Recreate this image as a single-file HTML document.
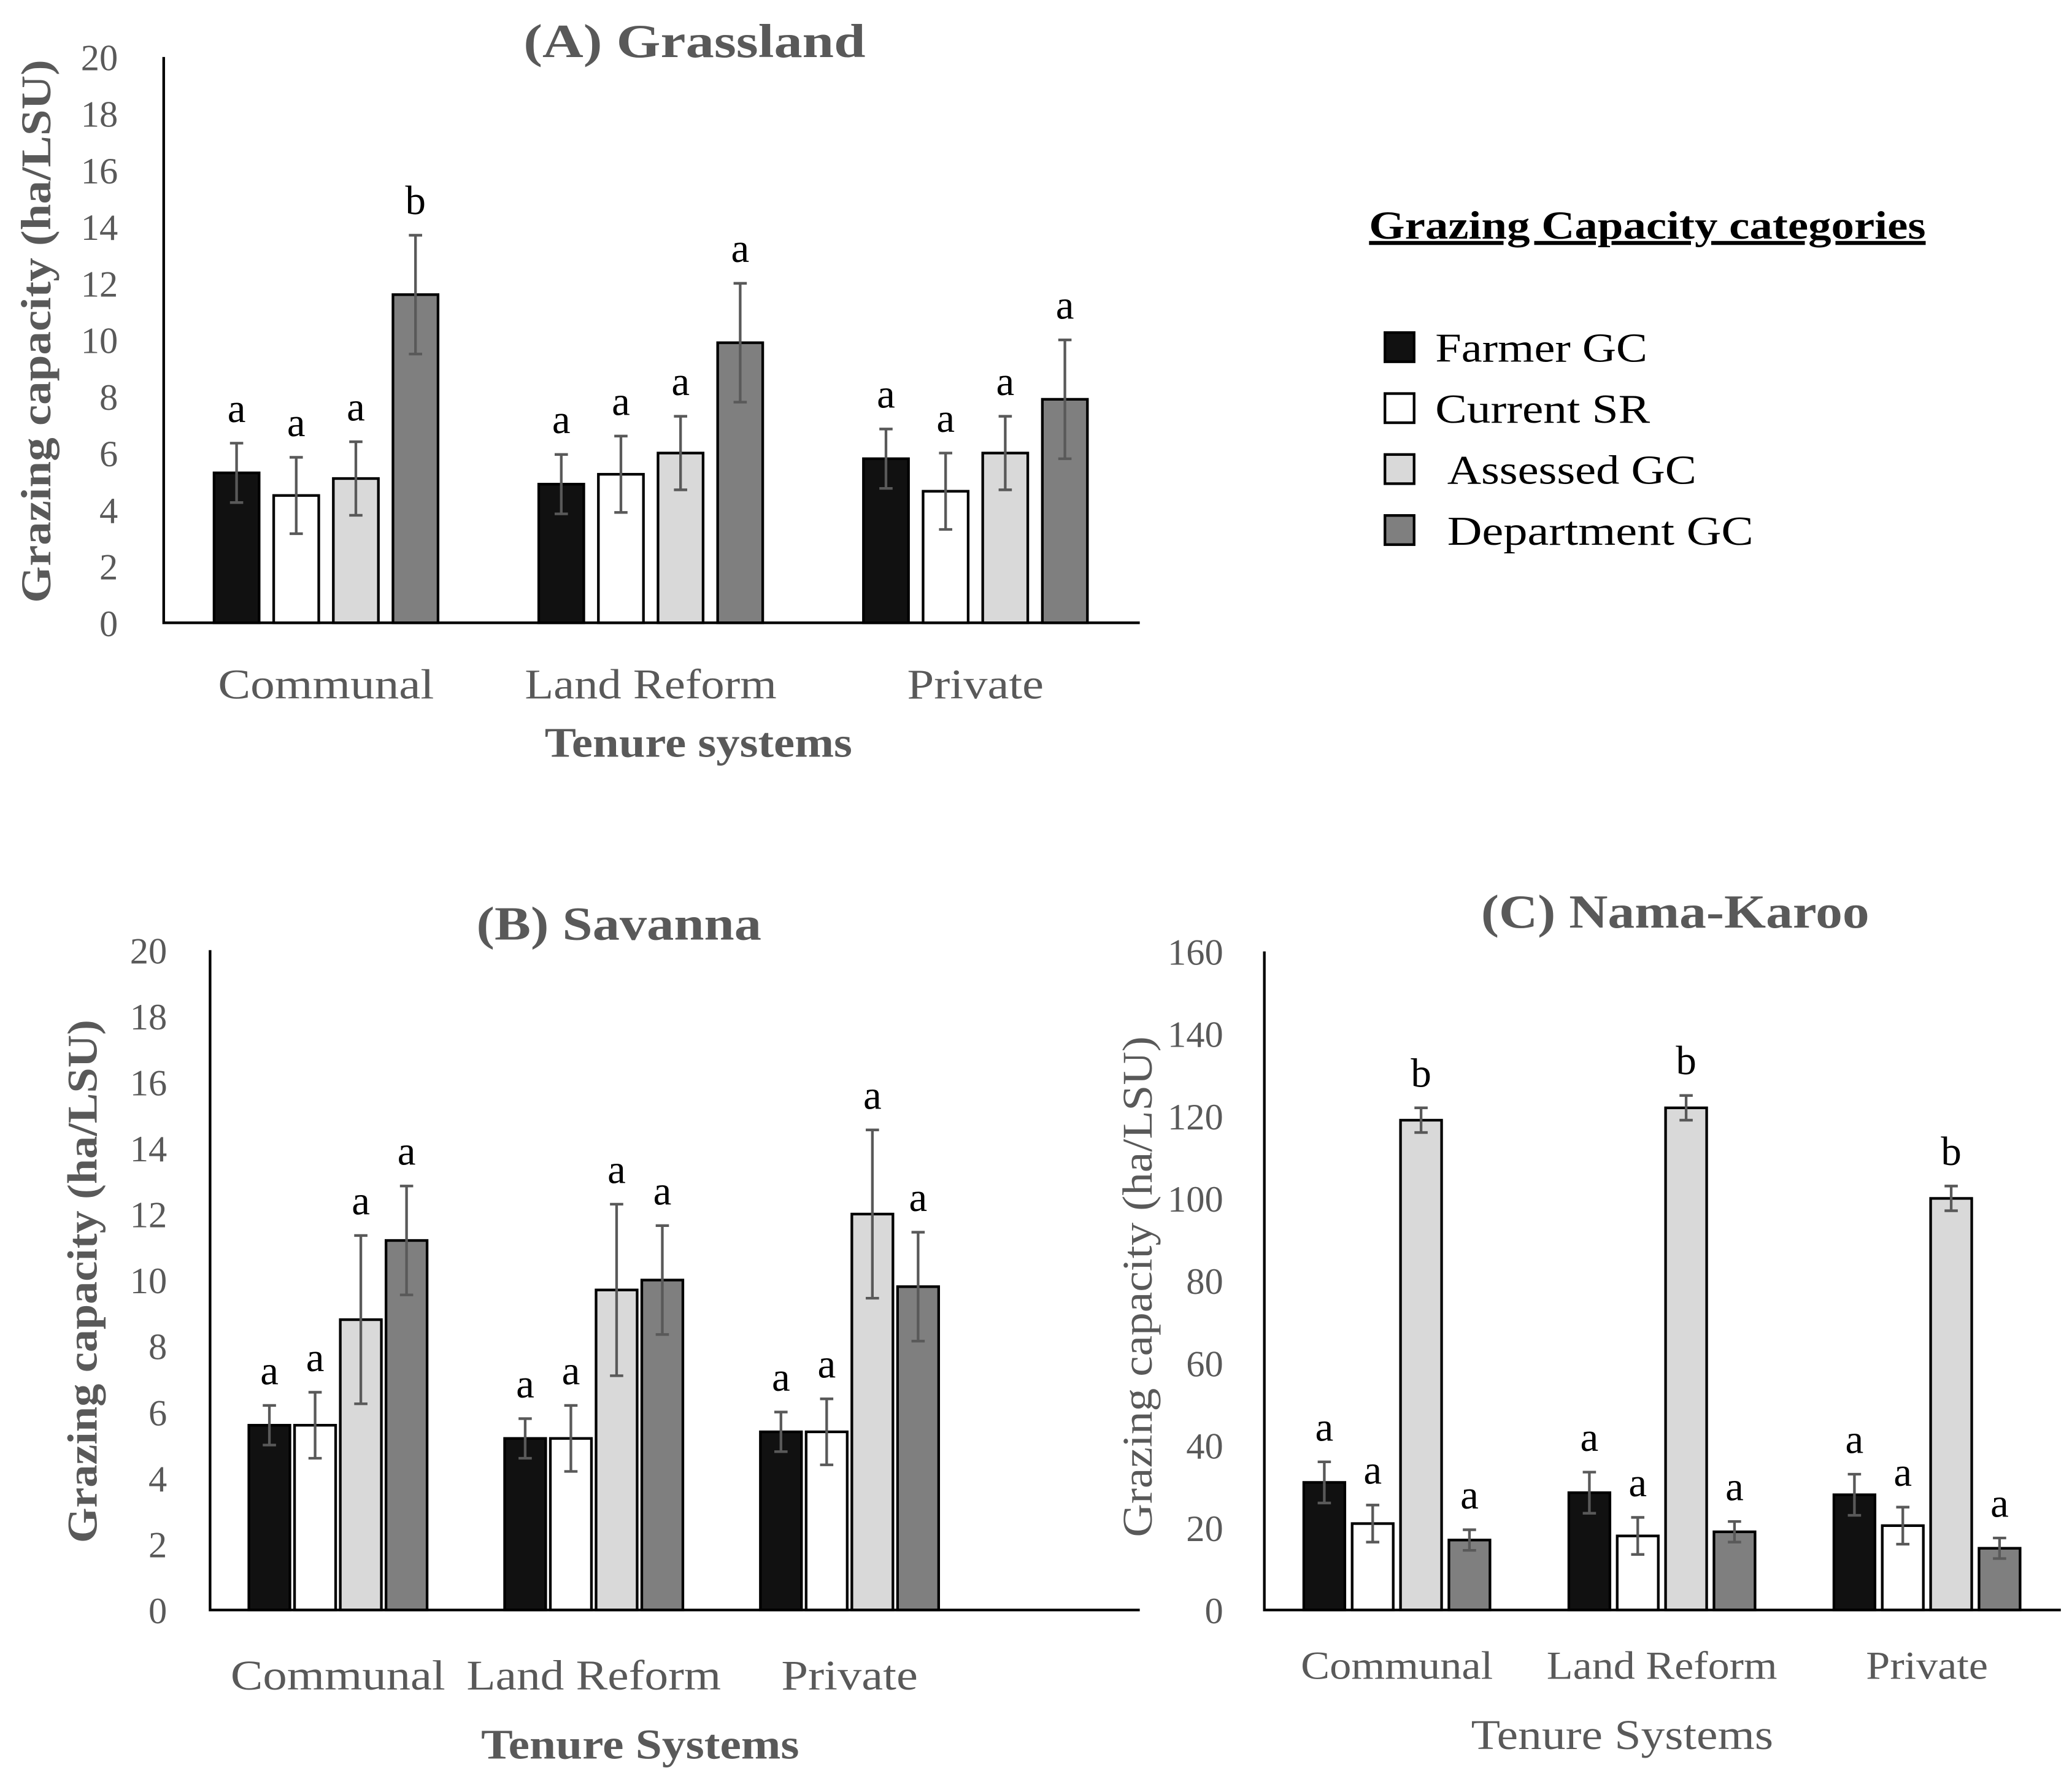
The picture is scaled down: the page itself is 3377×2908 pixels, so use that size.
<!DOCTYPE html>
<html><head><meta charset="utf-8"><style>
html,body{margin:0;padding:0;background:#fff;}
svg{display:block;}
text{font-family:"Liberation Serif",serif;}
</style></head><body>
<svg id="fig" width="3377" height="2908" viewBox="0 0 1563.4 1346.3" xmlns="http://www.w3.org/2000/svg">
<g id="legend">
<text x="1033" y="180" font-size="30" font-weight="bold" fill="#000" text-decoration="underline" textLength="420" lengthAdjust="spacingAndGlyphs">Grazing Capacity categories</text>
<rect x="1045" y="251" width="22" height="22" fill="#111" stroke="#000" stroke-width="2"/>
<text x="1083" y="273" font-size="31" fill="#000" textLength="160" lengthAdjust="spacingAndGlyphs">Farmer GC</text>
<rect x="1045" y="297" width="22" height="22" fill="#fff" stroke="#000" stroke-width="2"/>
<text x="1083" y="319" font-size="31" fill="#000" textLength="162" lengthAdjust="spacingAndGlyphs">Current SR</text>
<rect x="1045" y="343" width="22" height="22" fill="#d9d9d9" stroke="#000" stroke-width="2"/>
<text x="1092" y="365" font-size="31" fill="#000" textLength="188" lengthAdjust="spacingAndGlyphs">Assessed GC</text>
<rect x="1045" y="389" width="22" height="22" fill="#7f7f7f" stroke="#000" stroke-width="2"/>
<text x="1092" y="411" font-size="31" fill="#000" textLength="231" lengthAdjust="spacingAndGlyphs">Department GC</text>
</g>
</svg>
<script>
const categories = ["Communal", "Land Reform", "Private"];
const seriesNames = ["Farmer GC", "Current SR", "Assessed GC", "Department GC"];
const seriesColors = ["#111111", "#ffffff", "#d9d9d9", "#7f7f7f"];

const gFarmer = [5.3, 4.9, 5.8];
const gCurrent = [4.5, 5.25, 4.65];
const gAssessed = [5.1, 6.0, 6.0];
const gDept = [11.6, 9.9, 7.9];
const gFarmerErr = [1.05, 1.05, 1.05];
const gCurrentErr = [1.35, 1.35, 1.35];
const gAssessedErr = [1.3, 1.3, 1.3];
const gDeptErr = [2.1, 2.1, 2.1];
const gLetters = [["a","a","a"],["a","a","a"],["a","a","a"],["b","a","a"]];

const sFarmer = [5.6, 5.2, 5.4];
const sCurrent = [5.6, 5.2, 5.4];
const sAssessed = [8.8, 9.7, 12.0];
const sDept = [11.2, 10.0, 9.8];
const sFarmerErr = [0.6, 0.6, 0.6];
const sCurrentErr = [1.0, 1.0, 1.0];
const sAssessedErr = [2.55, 2.6, 2.55];
const sDeptErr = [1.65, 1.65, 1.65];
const sLetters = [["a","a","a"],["a","a","a"],["a","a","a"],["a","a","a"]];

const nFarmer = [31, 28.5, 28];
const nCurrent = [21, 18, 20.5];
const nAssessed = [119, 122, 100];
const nDept = [17, 19, 15];
const nFarmerErr = [5, 5, 5];
const nCurrentErr = [4.5, 4.5, 4.5];
const nAssessedErr = [3, 3, 3];
const nDeptErr = [2.5, 2.5, 2.5];
const nLetters = [["a","a","a"],["a","a","a"],["b","b","b"],["a","a","a"]];

const ticks20 = [0, 2, 4, 6, 8, 10, 12, 14, 16, 18, 20];
const ticks160 = [0, 20, 40, 60, 80, 100, 120, 140, 160];

const NS = "http://www.w3.org/2000/svg";
const svg = document.getElementById("fig");
function mk(tag, attrs, parent) {
  const e = document.createElementNS(NS, tag);
  for (const k in attrs) e.setAttribute(k, attrs[k]);
  parent.appendChild(e);
  return e;
}

function drawChart(cfg) {
  const g = mk("g", {}, svg);
  
  
  const y = v => cfg.y0 - (v / cfg.max) * (cfg.y0 - cfg.yTop);
  const catX = i => cfg.start + cfg.catW * (i + 0.5);
  const t = mk("text", {x: cfg.titleX, y: cfg.titleY, "text-anchor": "middle", "font-size": 36, "font-weight": "bold", fill: "#595959", textLength: cfg.titleLen, lengthAdjust: "spacingAndGlyphs"}, g);
  t.textContent = cfg.title;
  
  
  cfg.ticks.forEach(v => {
    const tt = mk("text", {x: cfg.tickX, y: y(v) + 10, "text-anchor": "end", "font-size": 28, fill: "#595959"}, g);
    tt.textContent = v;
    
    
  });
  const yt = mk("text", {x: 0, y: 0, "text-anchor": "middle", "font-size": 32, "font-weight": cfg.boldAxis ? "bold" : "normal", fill: "#595959", textLength: cfg.yTitleLen, lengthAdjust: "spacingAndGlyphs", transform: `translate(${cfg.yTitleX},${cfg.yTitleY}) rotate(-90)`}, g);
  yt.textContent = "Grazing capacity (ha/LSU)";
  
  
  cfg.series.forEach((vals, s) => {
    vals.forEach((v, i) => {
      const cx = catX(i) + (s - 1.5) * cfg.spacing;
      const r = mk("rect", {x: cx - cfg.barW / 2, y: y(v), width: cfg.barW, height: cfg.y0 - y(v), fill: seriesColors[s], stroke: "#000", "stroke-width": 2}, g);
      
      
      const e = cfg.errs[s][i];
      const eb = mk("path", {d: `M${cx},${y(v + e)}V${y(v - e)}M${cx - 5},${y(v + e)}H${cx + 5}M${cx - 5},${y(v - e)}H${cx + 5}`, stroke: "#595959", "stroke-width": 2, fill: "none"}, g);
      
      
      const lt = mk("text", {x: cx, y: y(v + e) - 16, "text-anchor": "middle", "font-size": 31, fill: "#000"}, g);
      lt.textContent = cfg.letters[s][i];
      
      
    });
  });
  const ax = mk("path", {d: `M${cfg.start},${cfg.yTop}V${cfg.y0}H${cfg.xEnd}`, stroke: "#000", "stroke-width": 2, fill: "none"}, g);
  
  
  categories.forEach((c, i) => {
    const ct = mk("text", {x: catX(i), y: cfg.catY, "text-anchor": "middle", "font-size": cfg.catFont, fill: "#595959", textLength: cfg.catLens[i], lengthAdjust: "spacingAndGlyphs"}, g);
    ct.textContent = c;
    
    
  });
  const xt = mk("text", {x: cfg.xTitleX, y: cfg.xTitleY, "text-anchor": "middle", "font-size": 32, "font-weight": cfg.boldAxis ? "bold" : "normal", fill: "#595959", textLength: cfg.xTitleLen, lengthAdjust: "spacingAndGlyphs"}, g);
  xt.textContent = cfg.xTitle;
  
  
}

drawChart({id: "grassland", title: "(A)  Grassland", titleX: 524, titleY: 43, titleLen: 258, start: 123.5, catW: 245, xEnd: 860, yTop: 43, y0: 470, max: 20, ticks: ticks20, tickX: 89,
  spacing: 45, barW: 34, series: [gFarmer, gCurrent, gAssessed, gDept], errs: [gFarmerErr, gCurrentErr, gAssessedErr, gDeptErr], letters: gLetters,
  yTitleX: 38, yTitleY: 250, yTitleLen: 410, catY: 527, catFont: 32, catLens: [163, 190, 103], xTitle: "Tenure systems", xTitleX: 527, xTitleY: 571, xTitleLen: 232, boldAxis: true});
drawChart({id: "savanna", title: "(B) Savanna", titleX: 467, titleY: 709, titleLen: 215, start: 158.5, catW: 193, xEnd: 860, yTop: 717, y0: 1215, max: 20, ticks: ticks20, tickX: 126,
  spacing: 34.5, barW: 31, series: [sFarmer, sCurrent, sAssessed, sDept], errs: [sFarmerErr, sCurrentErr, sAssessedErr, sDeptErr], letters: sLetters,
  yTitleX: 73, yTitleY: 967, yTitleLen: 395, catY: 1275, catFont: 32, catLens: [162, 192, 103], xTitle: "Tenure Systems", xTitleX: 483, xTitleY: 1327, xTitleLen: 240, boldAxis: true});
drawChart({id: "nama-karoo", title: "(C) Nama-Karoo", titleX: 1264, titleY: 700, titleLen: 293, start: 954, catW: 200, xEnd: 1555, yTop: 718, y0: 1215, max: 160, ticks: ticks160, tickX: 923,
  spacing: 36.5, barW: 31, series: [nFarmer, nCurrent, nAssessed, nDept], errs: [nFarmerErr, nCurrentErr, nAssessedErr, nDeptErr], letters: nLetters,
  yTitleX: 869, yTitleY: 971, yTitleLen: 378, catY: 1267, catFont: 30, catLens: [145, 174, 92], xTitle: "Tenure Systems", xTitleX: 1224, xTitleY: 1320, xTitleLen: 228, boldAxis: false});
</script>
</body></html>
